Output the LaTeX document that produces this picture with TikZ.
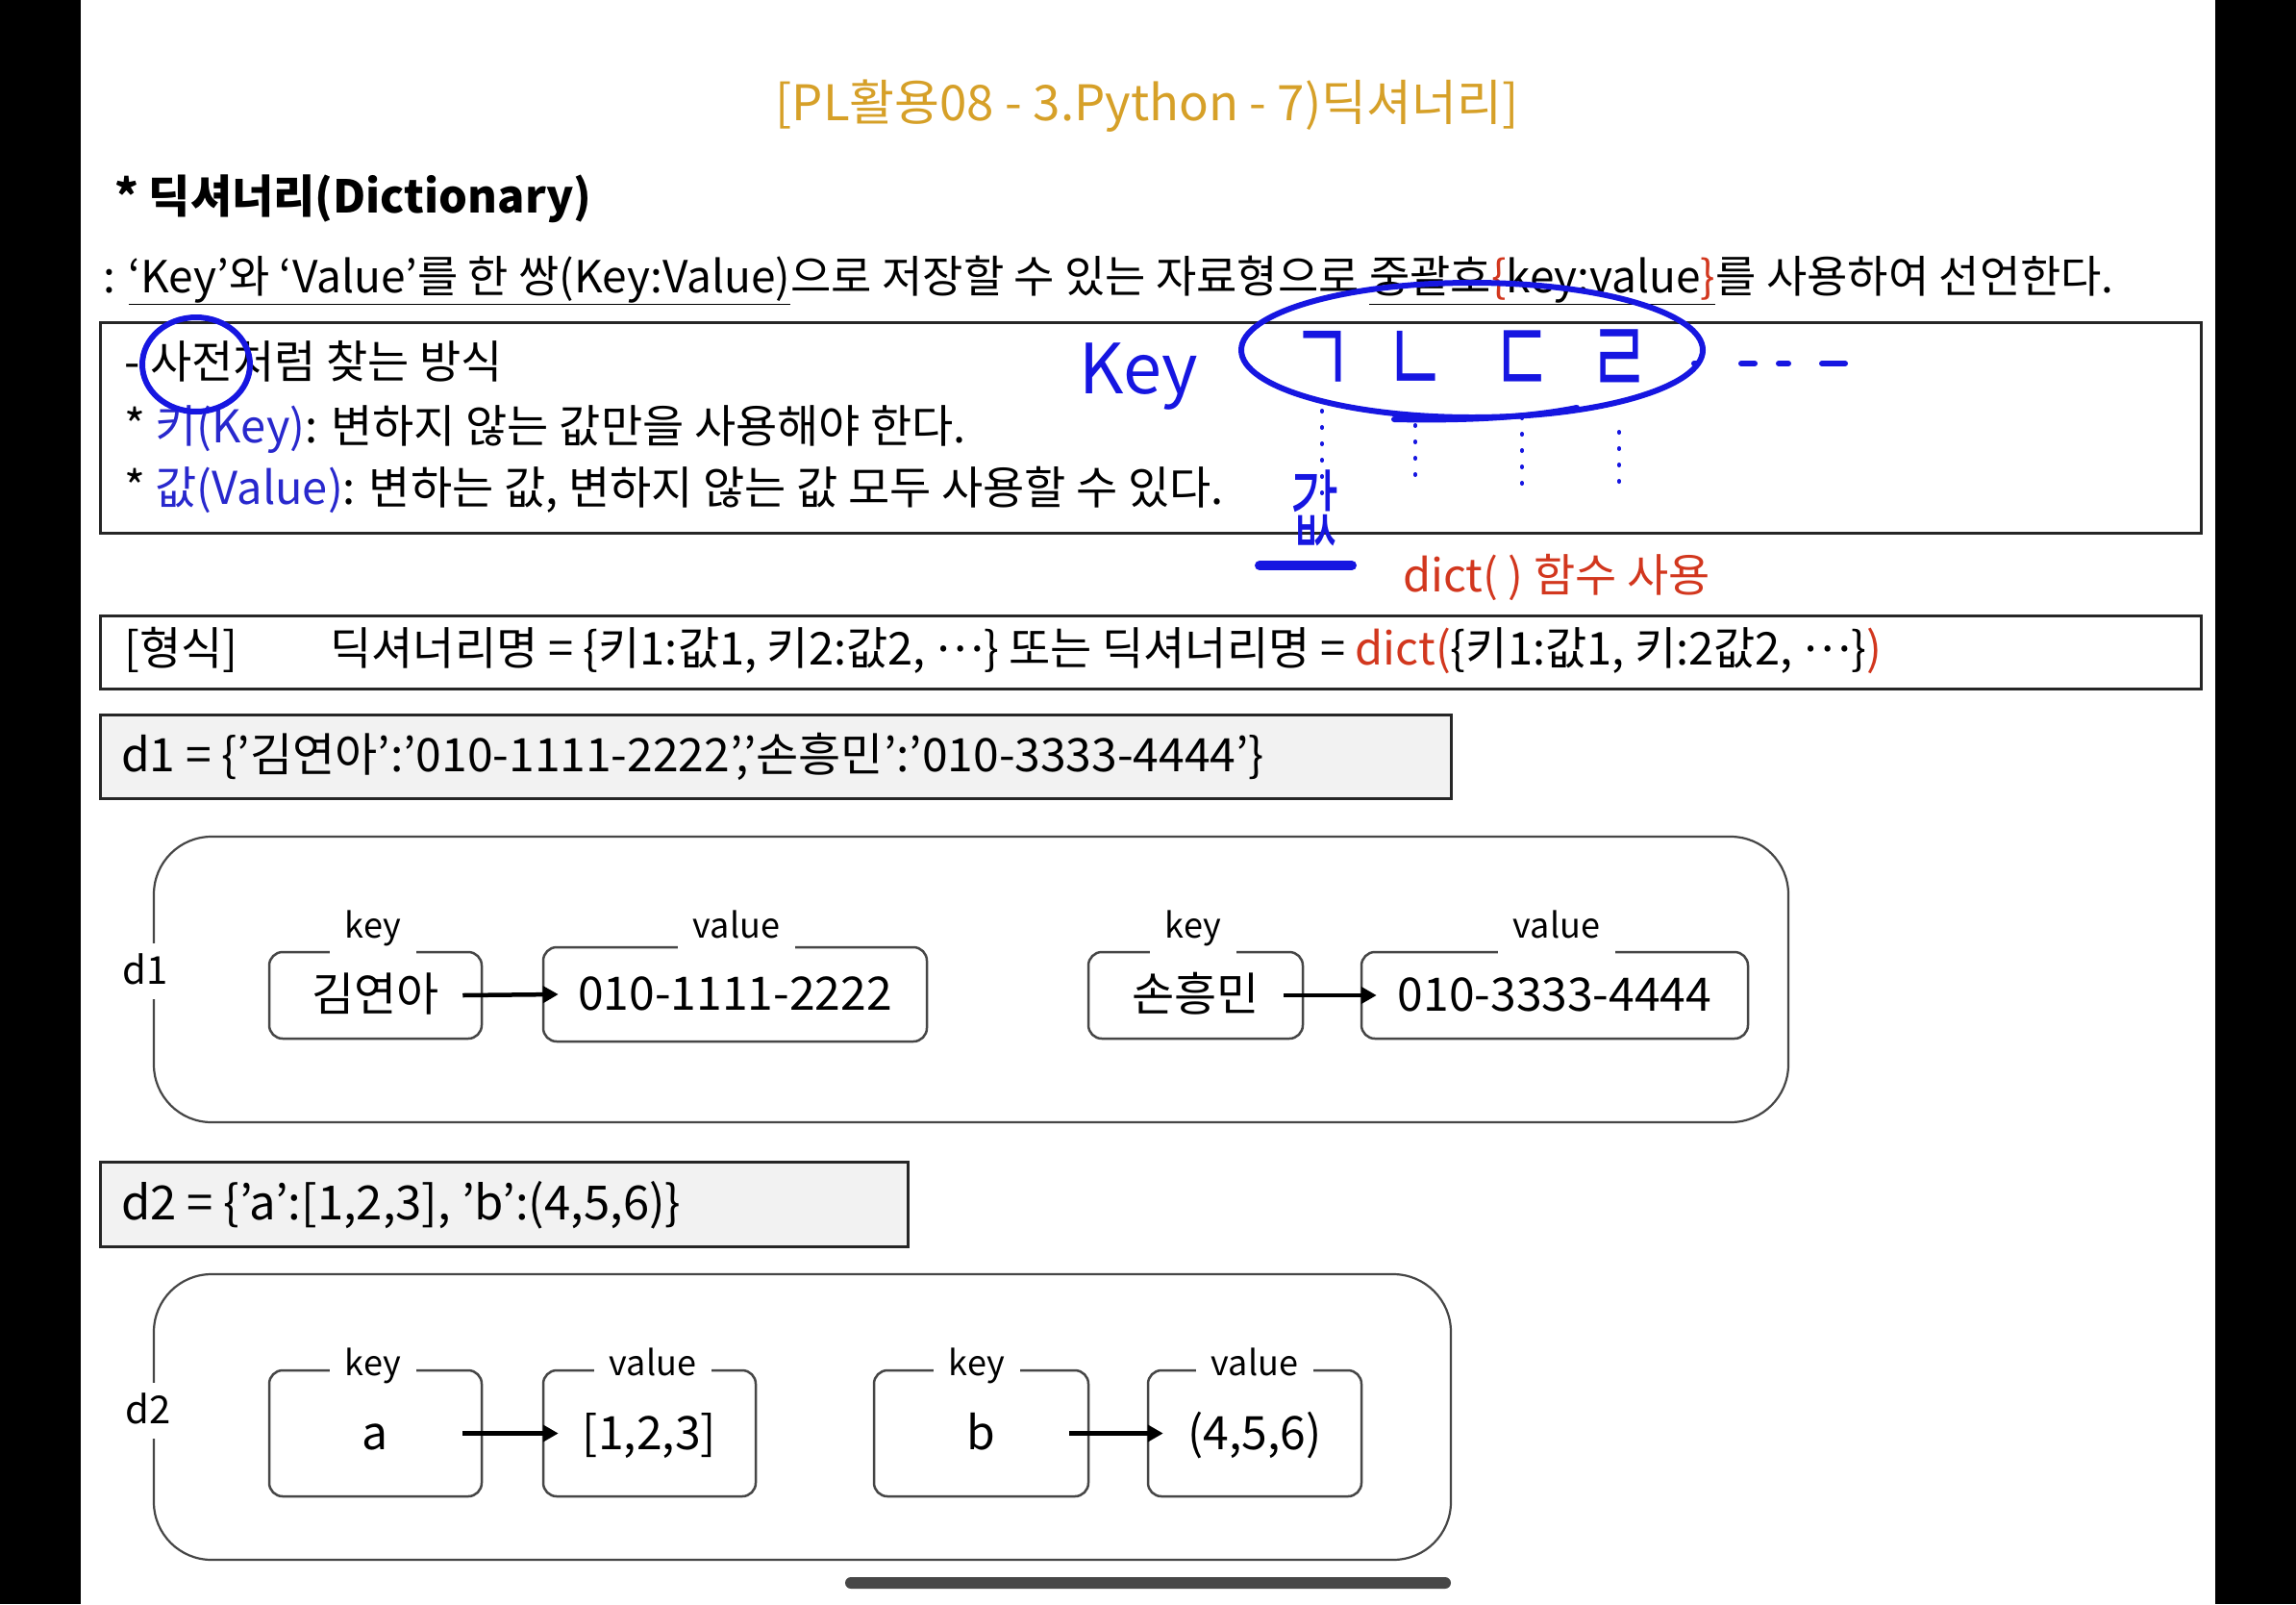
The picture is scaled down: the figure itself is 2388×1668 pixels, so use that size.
\documentclass[tikz,border=0pt]{standalone}
\usepackage{fontspec}
\setmainfont{Noto Sans CJK KR}
\newfontfamily\jamofont{Noto Sans CJK KR}[FakeStretch=0.62]
\usetikzlibrary{arrows.meta,calc}
\definecolor{gold}{RGB}{214,160,40}
\definecolor{handblue}{RGB}{22,22,225}
\definecolor{keyblue}{RGB}{40,40,205}
\definecolor{redtxt}{RGB}{210,55,30}
\definecolor{codegray}{RGB}{242,242,242}
\definecolor{linegray}{RGB}{70,70,70}
\begin{document}
\begin{tikzpicture}[x=1pt,y=-1pt,
  txt/.style={inner sep=0pt, anchor=west},
  body/.style={font=\fontsize{46}{54}\selectfont, text height=38pt, text depth=7pt},
  bodyb/.style={font=\fontsize{47}{55}\selectfont, text height=38.5pt, text depth=7pt},
  frame/.style={draw=black!85, line width=3pt, inner sep=0pt},
  code/.style={draw=black!85, line width=3pt, fill=codegray, inner sep=0pt},
  group/.style={draw=linegray, line width=2.2pt, rounded corners=60pt, inner sep=0pt},
  kvbox/.style={draw=linegray, line width=2.5pt, rounded corners=14pt, inner sep=0pt,
     font=\fontsize{48}{56}\selectfont, text height=39pt, text depth=6pt},
  lbl/.style={fill=white, inner xsep=16pt, inner ysep=14pt, font=\fontsize{36}{42}\selectfont,
     text height=29pt, text depth=5pt},
  dlbl/.style={fill=white, inner xsep=4pt, inner ysep=10pt, font=\fontsize{40}{48}\selectfont,
     text height=32pt, text depth=6pt},
  arr/.style={line width=4.5pt, -{Triangle[length=16pt,width=17pt]}},
  hand/.style={draw=handblue, line width=6pt, line cap=round, line join=round},
  handtxt/.style={text=handblue, inner sep=0pt},
  jamo/.style={handtxt, font=\jamofont\fontsize{112}{120}\selectfont},
  dots/.style={draw=handblue, line width=4pt, line cap=round, dash pattern=on 1pt off 16pt}
]
\useasboundingbox (0,0) rectangle (2388,1668);
\fill[white] (84,0) rectangle (2304,1668);
\fill[black] (0,0) rectangle (84,1668);
\fill[black] (2304,0) rectangle (2388,1668);

% title and heading
\node[text=gold, inner sep=0pt, font=\fontsize{51}{58}\selectfont] (title) at (1193,110) {[PL활용08 - 3.Python - 7)딕셔너리]};
\node[txt, font=\fontsize{47}{55}\selectfont\bfseries, text height=38.5pt, text depth=7pt] (head) at (119,206) {* 딕셔너리(Dictionary)};
\node[txt, body] (def) at (107,289) {: \underline{‘Key’와 ‘Value’를 한 쌍(Key:Value)}으로 저장할 수 있는 자료형으로 \underline{중괄호{\color{redtxt}\{}key:value{\color{redtxt}\}}}를 사용하여 선언한다.};

% box 1
\node[frame, minimum width=2185pt, minimum height=219pt] (box1) at (1196.5,444.5) {};
\node[txt, bodyb] (b1l1) at (129,378) {- 사전처럼 찾는 방식};
\node[txt, bodyb] (b1l2) at (129,445) {* {\color{keyblue}키(Key)}: 변하지 않는 값만을 사용해야 한다.};
\node[txt, bodyb] (b1l3) at (129,509) {* {\color{keyblue}값(Value)}: 변하는 값, 변하지 않는 값 모두 사용할 수 있다.};

\node[txt, bodyb, text=redtxt] (dictnote) at (1459,600) {dict( ) 함수 사용};

% box 2
\node[frame, minimum width=2185pt, minimum height=76pt] (box2) at (1196.5,678) {};
\node[txt, bodyb] (fmt) at (129,676) {[형식]\hspace{96pt}딕셔너리명 = \{키1:값1, 키2:값2, \raisebox{0.3em}{…}\} 또는 딕셔너리명 = {\color{redtxt}dict(}\{키1:값1, 키:2값2, \raisebox{0.3em}{…}\}{\color{redtxt})}};

% code d1
\node[code, minimum width=1405pt, minimum height=87pt] (c1) at (806.5,786.5) {};
\node[txt, font=\fontsize{48}{56}\selectfont, text height=39pt, text depth=7pt] (c1t) at (126,786) {d1 = \{'김연아':'010-1111-2222','손흥민':'010-3333-4444'\}};

% group d1
\node[group, minimum width=1700pt, minimum height=297pt] (g1) at (1010,1018.5) {};
\node[dlbl] (d1) at (151,1010) {d1};
\node[kvbox, minimum width=221pt, minimum height=90pt] (k1) at (390.5,1035) {김연아};
\node[kvbox, minimum width=399pt, minimum height=98pt] (v1) at (764.5,1034) {010-1111-2222};
\node[kvbox, minimum width=223pt, minimum height=90pt] (k2) at (1243.5,1035) {손흥민};
\node[kvbox, minimum width=402pt, minimum height=90pt] (v2) at (1617,1035) {010-3333-4444};
\node[lbl] (k1l) at (388,963) {key};
\node[lbl] (v1l) at (766,963) {value};
\node[lbl] (k2l) at (1241,963) {key};
\node[lbl] (v2l) at (1619,963) {value};
\draw[arr] ($(k1.east)+(-21,0)$) -- ($(v1.west)+(17,0)$);
\draw[arr] ($(k2.east)+(-21,0)$) -- ($(v2.west)+(17,0)$);

% code d2
\node[code, minimum width=840pt, minimum height=88pt] (c2) at (524,1252) {};
\node[txt, font=\fontsize{49}{57}\selectfont, text height=40pt, text depth=7pt] (c2t) at (126,1252) {d2 = \{'a':[1,2,3], 'b':(4,5,6)\}};

% group d2
\node[group, minimum width=1349pt, minimum height=297pt] (g2) at (834.5,1473.5) {};
\node[dlbl] (d2) at (154,1467) {d2};
\node[kvbox, minimum width=221pt, minimum height=131pt] (ka) at (390.5,1490.5) {a};
\node[kvbox, minimum width=221pt, minimum height=131pt] (va) at (675.5,1490.5) {[1,2,3]};
\node[kvbox, minimum width=223pt, minimum height=131pt] (kb) at (1020.5,1490.5) {b};
\node[kvbox, minimum width=222pt, minimum height=131pt] (vb) at (1305,1490.5) {(4,5,6)};
\node[lbl] (kal) at (388,1418) {key};
\node[lbl] (val) at (679,1418) {value};
\node[lbl] (kbl) at (1016,1418) {key};
\node[lbl] (vbl) at (1305,1418) {value};
\draw[arr] ($(ka.east)+(-21,0)$) -- ($(va.west)+(17,0)$);
\draw[arr] ($(kb.east)+(-21,0)$) -- ($(vb.west)+(17,0)$);

% handwritten annotations
\draw[hand] (204,379) ellipse [x radius=56pt, y radius=49pt];
\draw[hand] (1531,364) ellipse [x radius=240pt, y radius=70pt];
\draw[hand] (1450,436) .. controls (1540,438) and (1600,432) .. (1640,424);
\node[handtxt, font=\fontsize{72}{80}\selectfont] (hkey) at (1184,392) {Key};
\node[jamo] (j1) at (1375,378) {ㄱ};
\node[jamo] (j2) at (1472,378) {ㄴ};
\node[jamo] (j3) at (1583,378) {ㄷ};
\node[jamo] (j4) at (1684,378) {ㄹ};
\draw[dots] ($(j1.center)+(0,49)$) -- ++(0,91);
\draw[dots] ($(j2.center)+(0,64)$) -- ++(0,61);
\draw[dots] ($(j3.center)+(0,56)$) -- ++(0,69);
\draw[dots] ($(j4.center)+(0,71)$) -- ++(0,54);
\draw[hand, dash pattern=on 3pt off 46pt on 14pt off 25pt on 10pt off 35pt on 24pt] ($(j4.center)+(78,0)$) -- ++(158,0);
\node[jamo, font=\jamofont\fontsize{88}{96}\selectfont] (hval) at (1368,528) {값};
\draw[hand, line width=10pt] ($(hval.center)+(-58,60)$) -- ($(hval.center)+(38,60)$);

% home indicator
\fill[black!72, rounded corners=6pt] (879,1640) rectangle (1509,1652);
\end{tikzpicture}
\end{document}
